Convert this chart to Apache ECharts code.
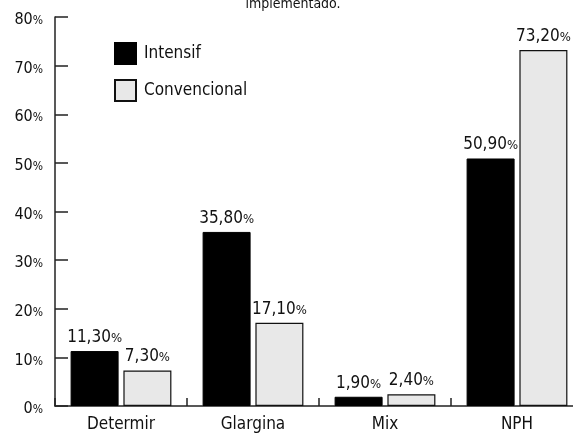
<!DOCTYPE html>
<html><head><meta charset="utf-8">
<script src="https://cdn.jsdelivr.net/npm/echarts@6/dist/echarts.min.js"></script>
<style>html,body{margin:0;padding:0;background:#fff}#c{width:573px;height:433px}</style>
</head><body><div id="c"></div>
<script>
var categories = ['Determir', 'Glargina', 'Mix', 'NPH'];
var intensif = [11.3, 35.8, 1.9, 50.9];
var convencional = [7.3, 17.1, 2.4, 73.2];
var seriesNames = ['Intensif', 'Convencional'];
var titleText = 'implementado.';

var FONT = 'DejaVu Sans Condensed';
function pct(v){ return v.toFixed(2).replace('.', ','); }
var labelCfg = {
  show: true, position: 'top', distance: 5,
  formatter: function(p){ return '{n|' + pct(p.value) + '}{p|%}'; },
  rich: {
    n: {fontFamily: FONT, fontSize: 17, color: '#111'},
    p: {fontFamily: FONT, fontSize: 13, color: '#111', padding: [2,0,0,0]}
  }
};
var chart = echarts.init(document.getElementById('c'));
chart.setOption({
  animation: false,
  title: {text: titleText, left: 288, textAlign: 'center', top: -8,
    textStyle: {fontFamily: FONT, fontSize: 14, fontWeight: 'normal', color: '#111'}},
  legend: {
    orient: 'vertical', left: 114, top: 42, padding: 0, itemWidth: 21, itemHeight: 21, itemGap: 14,
    icon: 'rect',
    data: seriesNames,
    textStyle: {fontFamily: FONT, fontSize: 17, color: '#111', padding: [0,0,0,3]}
  },
  grid: {left: 55, right: -10, top: 17, bottom: 27, outerBoundsMode: 'none'},
  xAxis: {
    type: 'category', data: categories,
    axisLine: {lineStyle: {color: '#222', width: 1.5}},
    axisTick: {show: true, inside: true, length: 8, lineStyle: {color: '#222', width: 1.5}},
    axisLabel: {fontFamily: FONT, fontSize: 17, color: '#111', margin: 10}
  },
  yAxis: {
    type: 'value', min: 0, max: 80, interval: 10,
    axisLine: {show: true, lineStyle: {color: '#222', width: 1.5}},
    axisTick: {show: true, inside: true, length: 13, lineStyle: {color: '#222', width: 1.5}},
    splitLine: {show: false},
    axisLabel: {
      margin: 12,
      padding: [6, 0, 0, 0],
      formatter: function(v){ return '{n|' + v + '}{p|%}'; },
      rich: {
        n: {fontFamily: FONT, fontSize: 16, color: '#111'},
        p: {fontFamily: FONT, fontSize: 12, color: '#111', padding: [2,0,0,0]}
      }
    }
  },
  series: [
    {name: seriesNames[0], type: 'bar', data: intensif, barWidth: 48, barGap: '10%',
     itemStyle: {color: '#000', borderColor: '#000', borderWidth: 1}, label: labelCfg},
    {name: seriesNames[1], type: 'bar', data: convencional, barWidth: 48, barGap: '10%',
     itemStyle: {color: '#e8e8e8', borderColor: '#111', borderWidth: 1.2}, label: labelCfg}
  ]
});
</script></body></html>
